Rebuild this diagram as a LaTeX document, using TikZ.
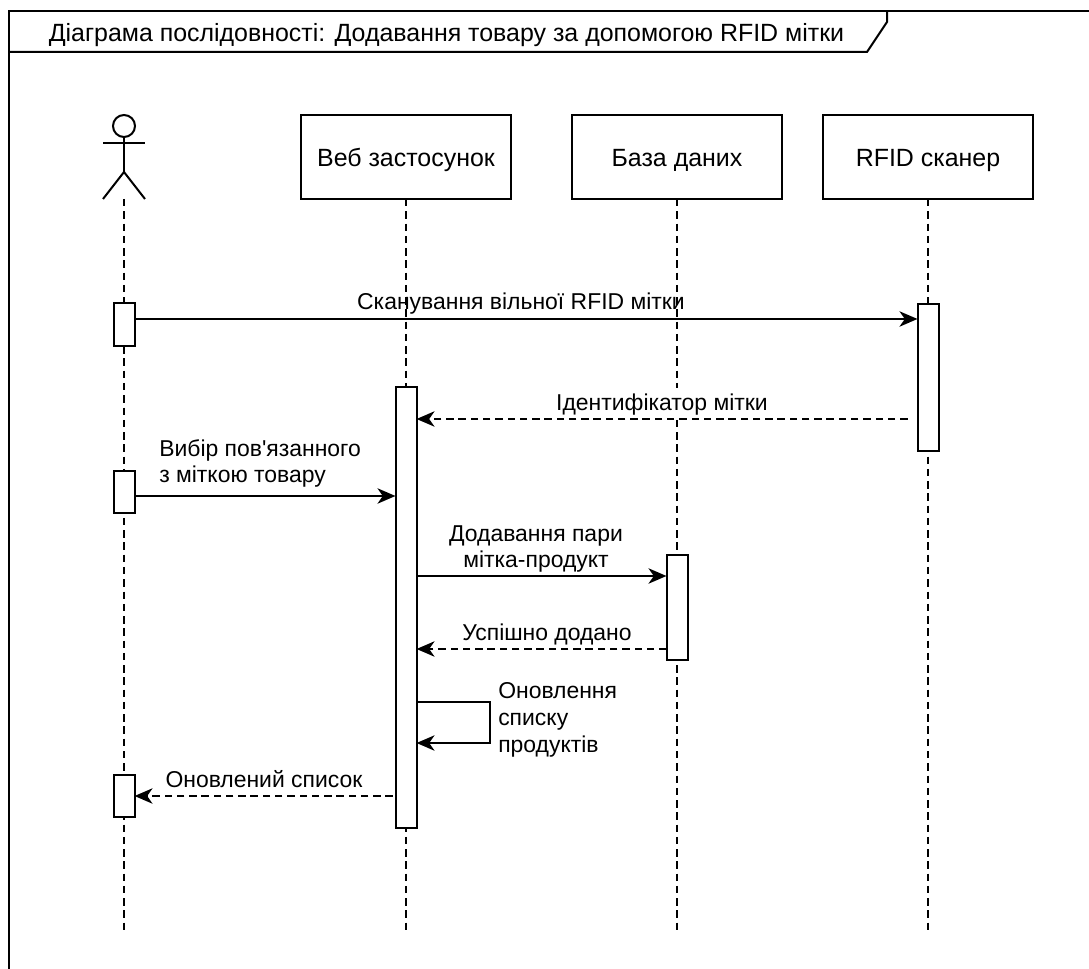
\documentclass[tikz,border=0pt]{standalone}
\usepackage{fontspec}
\newfontfamily\labelfont{Liberation Sans}
\usetikzlibrary{arrows.meta}
\tikzset{
  headbox/.style={draw,line width=1.5pt,fill=white,minimum width=157.5pt,minimum height=63pt,inner sep=0pt,outer sep=0pt,text height=15pt,text depth=0pt},
  actbar/.style={draw,line width=1.5pt,fill=white,minimum width=15.75pt,inner sep=0pt,outer sep=0pt},
  lifeline/.style={line width=1.5pt,dash pattern=on 5.6pt off 3.6pt},
  msg/.style={line width=1.5pt,-{Stealth[length=13.5pt,width=11.5pt,inset=4pt]}},
  reply/.style={msg,dash pattern=on 5.6pt off 3.6pt},
  msglabel/.style={inner sep=0pt,font=\labelfont\fontsize{17.2}{20.2}\selectfont}
}
\begin{document}
\begin{tikzpicture}[x=0.75pt,y=-0.75pt,font=\labelfont\fontsize{18.7}{20.2}\selectfont]
  \useasboundingbox (0,0) rectangle (1089,969);
  % Frame
  \draw[line width=1.9pt] (1089,11) -- (9,11) -- (9,969);
  \draw[line width=1.5pt] (9,52) -- (867,52) -- (887,22) -- (887,11);
  \node[inner sep=0pt,anchor=base] (titletext) at (446.5,41.5) {Діаграма послідовності: Додавання товару за допомогою RFID мітки};
  % Actor
  \node[draw,circle,line width=1.5pt,minimum size=16.5pt,inner sep=0pt] (actorhead) at (124,126) {};
  \coordinate (actorhip) at (124,172);
  \coordinate (actorfoot) at (124,199);
  \draw[line width=1.5pt] (actorhead.south) -- (actorhip);
  \draw[line width=1.5pt] (103,143) -- (145,143);
  \draw[line width=1.5pt] (103,199) -- (actorhip) -- (145,199);
  % Heads
  \node[headbox] (webbox) at (406,157) {Веб застосунок};
  \node[headbox] (dbbox) at (677,157) {База даних};
  \node[headbox] (rfidbox) at (928,157) {RFID сканер};
  % Lifelines
  \draw[lifeline] (actorfoot) -- (actorfoot |- 0,932);
  \draw[lifeline] (webbox.south) -- (webbox.south |- 0,932);
  \draw[lifeline] (dbbox.south) -- (dbbox.south |- 0,932);
  \draw[lifeline] (rfidbox.south) -- (rfidbox.south |- 0,932);
  % Activations
  \node[actbar,minimum height=32pt] (actorbarA) at (124,324.5) {};
  \node[actbar,minimum height=32pt] (actorbarB) at (124,492) {};
  \node[actbar,minimum height=32pt] (actorbarC) at (124,796) {};
  \node[actbar,minimum height=330.75pt] (webbar) at (406,607.5) {};
  \node[actbar,minimum height=78.75pt] (dbbar) at (677,607.5) {};
  \node[actbar,minimum height=110.25pt] (rfidbar) at (928,377.5) {};
  % Messages
  \node[msglabel,anchor=base] (scanlabel) at (521,310) {Сканування вільної RFID мітки};
  \draw[msg] (actorbarA.east |- 0,319) -- (rfidbar.west |- 0,319);
  \node[msglabel,anchor=base,fill=white,text height=17pt,text depth=3pt] (taglabel) at (662,411) {Ідентифікатор мітки};
  \draw[reply,shorten <=7.5pt] (rfidbar.west |- 0,419) -- (webbar.east |- 0,419);
  \node[msglabel,align=left,anchor=base west] (picklabel) at (159,483) {Вибір пов'язанного\\з міткою товару};
  \draw[msg] (actorbarB.east |- 0,496) -- (webbar.west |- 0,496);
  \node[msglabel,align=center,anchor=base] (addlabel) at (536,568) {Додавання пари\\мітка-продукт};
  \draw[msg] (webbar.east |- 0,576) -- (dbbar.west |- 0,576);
  \node[msglabel,anchor=base] (donelabel) at (547,640) {Успішно додано};
  \draw[reply] (dbbar.west |- 0,649) -- (webbar.east |- 0,649);
  \node[msglabel,align=left,anchor=base west] (updlabel) at (498,752) {Оновлення\\списку\\продуктів};
  \draw[msg] (webbar.east |- 0,702) -- (490,702) -- (490,743) -- (webbar.east |- 0,743);
  \node[msglabel,anchor=base] (listlabel) at (264,787) {Оновлений список};
  \draw[reply,shorten <=2pt] (webbar.west |- 0,796) -- (actorbarC.east |- 0,796);
\end{tikzpicture}
\end{document}
